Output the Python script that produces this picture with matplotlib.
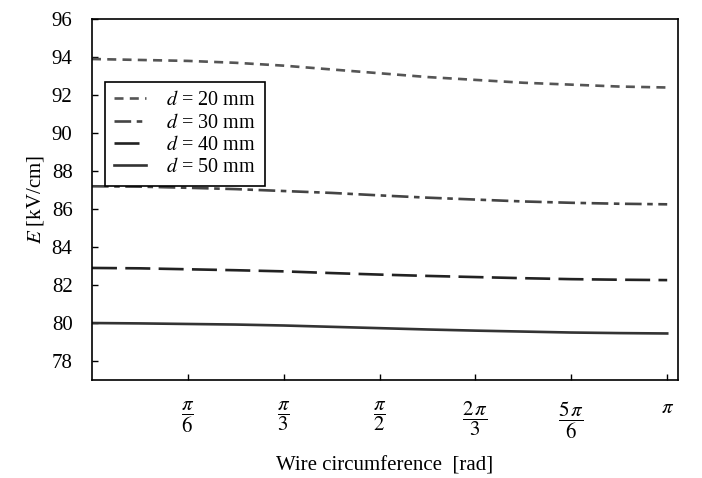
import matplotlib
matplotlib.use("Agg")
import matplotlib.pyplot as plt
import numpy as np

plt.rcParams["font.family"] = "serif"
plt.rcParams["font.serif"] = ["Liberation Serif"]
plt.rcParams["mathtext.fontset"] = "stix"
plt.rcParams["lines.scale_dashes"] = False

# sample positions along the wire, in units of pi/12
pos = np.arange(13)
e_d20 = [93.9, 93.85, 93.8, 93.7, 93.55, 93.35, 93.15, 92.95, 92.8, 92.65, 92.55, 92.45, 92.4]
e_d30 = [87.2, 87.18, 87.12, 87.05, 86.95, 86.85, 86.72, 86.6, 86.5, 86.4, 86.33, 86.28, 86.25]
e_d40 = [82.9, 82.88, 82.83, 82.78, 82.72, 82.63, 82.55, 82.48, 82.42, 82.36, 82.31, 82.28, 82.26]
e_d50 = [80.0, 79.98, 79.95, 79.92, 79.87, 79.8, 79.73, 79.66, 79.6, 79.55, 79.5, 79.47, 79.45]
labels = ["$d$ = 20 mm", "$d$ = 30 mm", "$d$ = 40 mm", "$d$ = 50 mm"]
xtick_labels = [r"$\dfrac{\pi}{6}$", r"$\dfrac{\pi}{3}$", r"$\dfrac{\pi}{2}$",
                r"$\dfrac{2\,\pi}{3}$", r"$\dfrac{5\,\pi}{6}$", r"$\pi$"]

x = pos * np.pi / 12

fig = plt.figure(figsize=(7.02, 4.78), dpi=100)
ax = fig.add_axes([0.131, 0.205, 0.835, 0.755])

ax.plot(x, e_d20, color="#555555", lw=1.9, dashes=(6.5, 4.5), label=labels[0])
ax.plot(x, e_d30, color="#444444", lw=1.9, dashes=(12, 4, 4, 4), label=labels[1])
ax.plot(x, e_d40, color="#222222", lw=1.9, dashes=(18, 6), label=labels[2])
ax.plot(x, e_d50, color="#333333", lw=1.9, label=labels[3])

ax.set_xlim(0, np.pi * 1.019)
ax.set_ylim(77, 96)
ax.set_yticks(range(78, 97, 2))
ax.set_xticks(np.arange(1, 7) * np.pi / 6)
ax.set_xticklabels(xtick_labels, fontsize=15)
ax.tick_params(axis="both", direction="in", length=4, width=1, labelsize=15)
ax.tick_params(axis="x", pad=14)
ax.tick_params(axis="y", pad=14)
for lbl in ax.get_xticklabels():
    lbl.set_verticalalignment("top")
for sp in ax.spines.values():
    sp.set_linewidth(1.2)

ax.set_xlabel("Wire circumference  [rad]", fontsize=15, labelpad=11)
ax.set_ylabel("$E$ [kV/cm]", fontsize=15, labelpad=4)

leg = ax.legend(loc="upper left", bbox_to_anchor=(0.022, 0.825), fontsize=14.5,
                handlelength=1.6, fancybox=False, framealpha=1,
                borderpad=0.45, labelspacing=0.15, handletextpad=1.0,
                borderaxespad=0)
leg.get_frame().set_edgecolor("black")
leg.get_frame().set_linewidth(1.2)

fig.savefig("out.png", dpi=100)
